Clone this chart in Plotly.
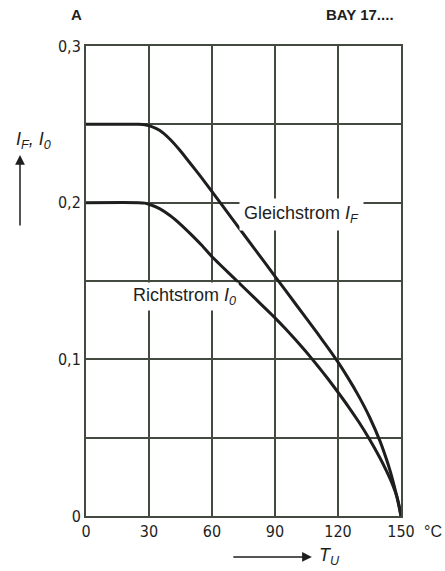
import plotly.graph_objects as go

# Data
temp_f = [0, 25, 28, 30, 35, 40, 45, 50, 55, 60, 70, 80, 90, 100, 110, 115, 120, 125, 130, 135, 140, 143, 145, 147,
          148, 149, 150]
i_f = [0.25, 0.25, 0.2498, 0.2492, 0.2462, 0.2405, 0.2330, 0.2245, 0.2160, 0.2070, 0.189, 0.171, 0.153, 0.135,
       0.117, 0.1078, 0.0982, 0.0877, 0.0762, 0.0632, 0.0478, 0.0365, 0.0280, 0.0180, 0.0125, 0.0065, 0.0]
temp_0 = [0, 25, 28, 30, 35, 40, 45, 50, 55, 60, 70, 80, 90, 95, 100, 105, 110, 115, 120, 125, 130, 135, 140, 143,
          145, 147, 148, 149, 150]
i_0 = [0.2, 0.2, 0.1997, 0.1990, 0.1962, 0.1918, 0.1862, 0.1798, 0.1730, 0.1655, 0.1525, 0.1395, 0.1265, 0.1195,
       0.1122, 0.1045, 0.0964, 0.0879, 0.0790, 0.0697, 0.0598, 0.0490, 0.0370, 0.0290, 0.0232, 0.0165, 0.0125,
       0.0072, 0.0]

x_ticks = [0, 30, 60, 90, 120, 150]
x_ticktext = ["0", "30", "60", "90", "120", "150"]
y_ticks = [0, 0.05, 0.1, 0.15, 0.2, 0.25, 0.3]
y_ticktext = ["0", "", "0,1", "", "0,2", "", "0,3"]

NARROW = "Liberation Sans Narrow, DejaVu Sans Condensed, sans-serif"
SANS = "Liberation Sans, Arial, sans-serif"
GRID = "#434a3f"
INK = "#1e1e1e"

fig = go.Figure()
fig.add_trace(go.Scatter(x=temp_f, y=i_f, mode="lines", line=dict(color=INK, width=3, shape="spline", smoothing=0.5),
                         hoverinfo="skip"))
fig.add_trace(go.Scatter(x=temp_0, y=i_0, mode="lines", line=dict(color=INK, width=3, shape="spline", smoothing=0.5),
                         hoverinfo="skip"))

ann_font = dict(family=SANS, size=18, color=INK)
fig.add_annotation(x=102.6, y=0.1925, xref="x", yref="y", xanchor="center", yanchor="middle",
                   text="Gleichstrom <i>I</i><sub><i>F</i></sub>", showarrow=False,
                   font=ann_font, bgcolor="white", borderpad=4)
fig.add_annotation(x=46.9, y=0.1403, xref="x", yref="y", xanchor="center", yanchor="middle",
                   text="Richtstrom <i>I</i><sub><i>0</i></sub>", showarrow=False,
                   font=ann_font, bgcolor="white", borderpad=2)


# Titles and axis labels
def paper_text(x, y, text, font, xanchor="center"):
    fig.add_annotation(x=x, y=y, xref="paper", yref="paper", text=text, showarrow=False,
                       xanchor=xanchor, yanchor="middle", font=font)


paper_text(-0.029, 1.066, "<b>A</b>", dict(family=SANS, size=15, color=INK))
paper_text(0.87, 1.066, "<b>BAY 17....</b>", dict(family=SANS, size=15, color=INK))
paper_text(1.10, -0.034, "°C", dict(family=SANS, size=16, color=INK))
paper_text(-0.168, 0.80, "<i>I</i><sub><i>F</i></sub><i>, I</i><sub><i>0</i></sub>", dict(family=SANS, size=18, color=INK))
paper_text(0.732, -0.0872, "<i>T</i><sub><i>U</i></sub>", dict(family=SANS, size=18, color=INK), xanchor="left")

fig.add_annotation(x=-0.2095, y=0.768, xref="paper", yref="paper", text="", showarrow=True,
                   ax=0, ay=72, arrowhead=2, arrowsize=1.3, arrowwidth=1.5, arrowcolor=INK)
fig.add_annotation(x=0.717, y=-0.0872, xref="paper", yref="paper", text="", showarrow=True,
                   ax=-80, ay=0, arrowhead=2, arrowsize=1.3, arrowwidth=1.5, arrowcolor=INK)

fig.update_layout(
    width=445, height=571, autosize=False,
    margin=dict(l=86, r=44, t=46, b=55),
    paper_bgcolor="white", plot_bgcolor="white",
    showlegend=False,
    font=dict(family=NARROW, size=16, color=INK),
)
fig.update_xaxes(range=[0, 150], tickvals=x_ticks, ticktext=x_ticktext, showgrid=True, gridcolor=GRID,
                 gridwidth=2, showline=True, linecolor=GRID, linewidth=2, mirror=True, zeroline=False,
                 ticks="", ticklen=0, tickfont=dict(family=NARROW, size=16, color=INK))
fig.update_yaxes(range=[0, 0.3], tickvals=y_ticks, ticktext=y_ticktext, showgrid=True, gridcolor=GRID,
                 gridwidth=2, showline=True, linecolor=GRID, linewidth=2, mirror=True, zeroline=False,
                 ticks="", ticklen=0, tickfont=dict(family=NARROW, size=16, color=INK))

# remove the default page margin so the 445x571 figure fills the window exactly
fig.write_html("out.html", config={"displayModeBar": False, "staticPlot": True},
               post_script="document.body.style.margin='0';document.body.style.overflow='hidden';")
